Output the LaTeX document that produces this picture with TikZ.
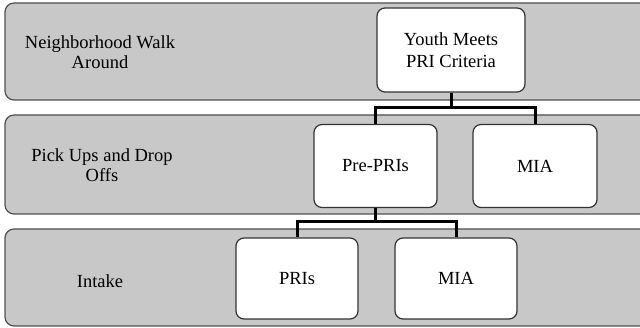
\documentclass[tikz,border=0pt]{standalone}
\usepackage{fontspec}
\setmainfont{Liberation Serif}
\definecolor{bandgray}{HTML}{C8C8C8}
\definecolor{edgegray}{HTML}{505050}
\begin{document}
\begin{tikzpicture}[x=1pt,y=-1pt,
  band/.style={draw=edgegray,fill=bandgray,line width=1.2pt,rounded corners=9pt},
  bandlabel/.style={align=center,font=\fontsize{18.5}{20.5}\selectfont,inner sep=0pt},
  boxnode/.style={draw=black!80,fill=white,line width=1.2pt,rounded corners=8pt,align=center,
    font=\fontsize{18.5}{22}\selectfont,inner sep=0pt},
  conn/.style={line width=3pt,black,line join=miter}]
\useasboundingbox (0,0) rectangle (640,328);
% bands
\path[band] (5,3) rectangle (670,100);
\path[band] (5,115) rectangle (670,214);
\path[band] (5,229) rectangle (670,326);
% band labels
\node[bandlabel] (l1) at (100,52) {Neighborhood Walk\\Around};
\node[bandlabel] (l2) at (102,165) {Pick Ups and Drop\\Offs};
\node[bandlabel] (l3) at (100,281) {Intake};
% boxes
\node[boxnode,minimum width=148pt,minimum height=84pt] (youth) at (451,50) {Youth Meets\\PRI Criteria};
\node[boxnode,minimum width=123pt,minimum height=83pt] (pre) at (375.5,166) {Pre-PRIs};
\node[boxnode,minimum width=124pt,minimum height=83pt] (mia1) at (535,166) {MIA};
\node[boxnode,minimum width=122pt,minimum height=81pt] (pris) at (297,278.5) {PRIs};
\node[boxnode,minimum width=122pt,minimum height=81pt] (mia2) at (456,278.5) {MIA};
% connectors
\coordinate (b1) at (0,108);
\coordinate (b2) at (0,222);
\draw[conn] (youth.south) -- (youth.south |- b1);
\draw[conn] (pre.north) -- (pre.north |- b1) -- (mia1.north |- b1) -- (mia1.north);
\draw[conn] (pre.south) -- (pre.south |- b2);
\draw[conn] (pris.north) -- (pris.north |- b2) -- (mia2.north |- b2) -- (mia2.north);
\end{tikzpicture}
\end{document}
